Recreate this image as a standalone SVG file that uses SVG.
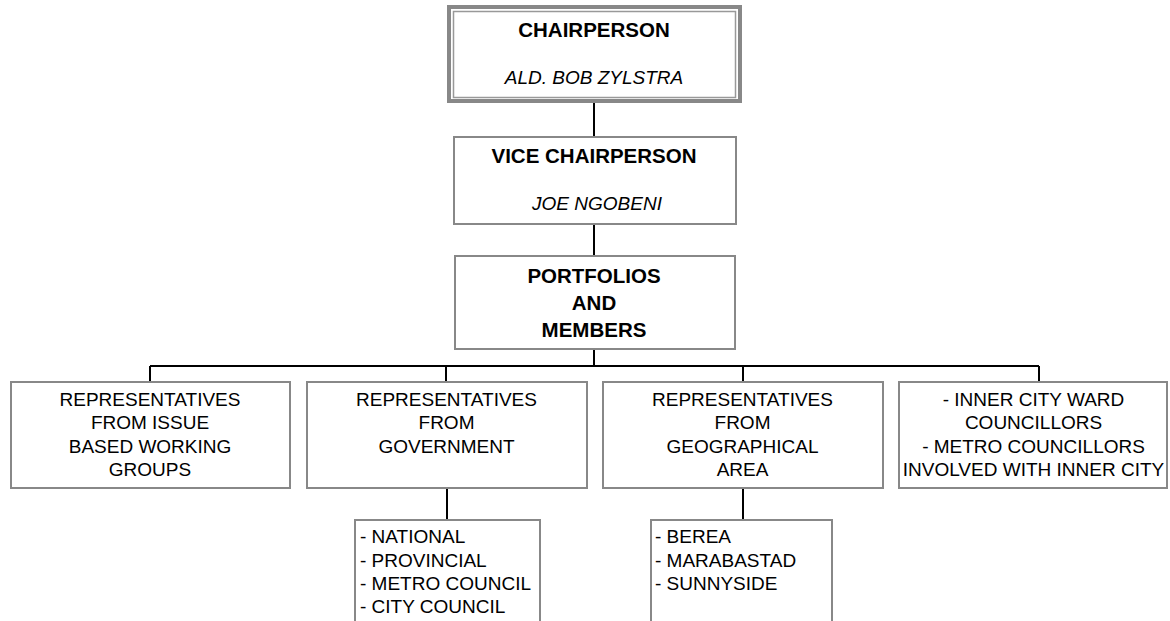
<svg xmlns="http://www.w3.org/2000/svg" width="1170" height="621" viewBox="0 0 1170 621">
<style>
.box{fill:#fff;stroke:#888;stroke-width:2}
.t{font-family:"Liberation Sans",Arial,sans-serif;font-size:19px;fill:#000}
.b{font-weight:bold;font-size:20.5px}
.i{font-style:italic}
.c{text-anchor:middle}
.conn{stroke:#000;stroke-width:2;fill:none}
</style>
<rect width="1170" height="621" fill="#fff"/>
<g id="connectors">
<path class="conn" d="M594 103V136M594 224V255M594 349V366M150 366H1039M150 366V381M446 366V381M743 366V381M1039 366V381M447 488V519M743 488V519"/>
</g>
<g id="chair">
<rect x="449" y="7" width="291" height="94" fill="#fff" stroke="#888" stroke-width="4"/>
<rect x="453.5" y="11.5" width="282" height="86" fill="none" stroke="#999" stroke-width="1.5"/>
<text class="t b c" x="594" y="37">CHAIRPERSON</text>
<text class="t i c" x="594" y="84">ALD. BOB ZYLSTRA</text>
</g>
<g id="vice">
<rect class="box" x="454" y="137" width="282" height="87"/>
<text class="t b c" x="594" y="163">VICE CHAIRPERSON</text>
<text class="t i c" x="597" y="210">JOE NGOBENI</text>
</g>
<g id="portfolios">
<rect class="box" x="455" y="256" width="280" height="93"/>
<text class="t b c" x="594" y="283">PORTFOLIOS</text>
<text class="t b c" x="594" y="310">AND</text>
<text class="t b c" x="594" y="337">MEMBERS</text>
</g>
<g id="issue">
<rect class="box" x="11" y="382" width="279" height="106"/>
<text class="t c" x="150" y="406">REPRESENTATIVES</text>
<text class="t c" x="150" y="429">FROM ISSUE</text>
<text class="t c" x="150" y="453">BASED WORKING</text>
<text class="t c" x="150" y="476">GROUPS</text>
</g>
<g id="government">
<rect class="box" x="307" y="382" width="280" height="106"/>
<text class="t c" x="446.5" y="406">REPRESENTATIVES</text>
<text class="t c" x="446.5" y="429">FROM</text>
<text class="t c" x="446.5" y="453">GOVERNMENT</text>
</g>
<g id="geographical">
<rect class="box" x="603" y="382" width="280" height="106"/>
<text class="t c" x="742.5" y="406">REPRESENTATIVES</text>
<text class="t c" x="742.5" y="429">FROM</text>
<text class="t c" x="742.5" y="453">GEOGRAPHICAL</text>
<text class="t c" x="742.5" y="476">AREA</text>
</g>
<g id="councillors">
<rect class="box" x="899" y="382" width="268" height="106"/>
<text class="t c" x="1033.5" y="406">- INNER CITY WARD</text>
<text class="t c" x="1033.5" y="429">COUNCILLORS</text>
<text class="t c" x="1033.5" y="453">- METRO COUNCILLORS</text>
<text class="t c" x="1033.5" y="476">INVOLVED WITH INNER CITY</text>
</g>
<g id="gov-list">
<rect class="box" x="355" y="520" width="185" height="110"/>
<text class="t" x="360" y="543">- NATIONAL</text>
<text class="t" x="360" y="567">- PROVINCIAL</text>
<text class="t" x="360" y="590">- METRO COUNCIL</text>
<text class="t" x="360" y="613">- CITY COUNCIL</text>
</g>
<g id="area-list">
<rect class="box" x="651" y="520" width="181" height="110"/>
<text class="t" x="655" y="543">- BEREA</text>
<text class="t" x="655" y="567">- MARABASTAD</text>
<text class="t" x="655" y="590">- SUNNYSIDE</text>
</g>
</svg>
